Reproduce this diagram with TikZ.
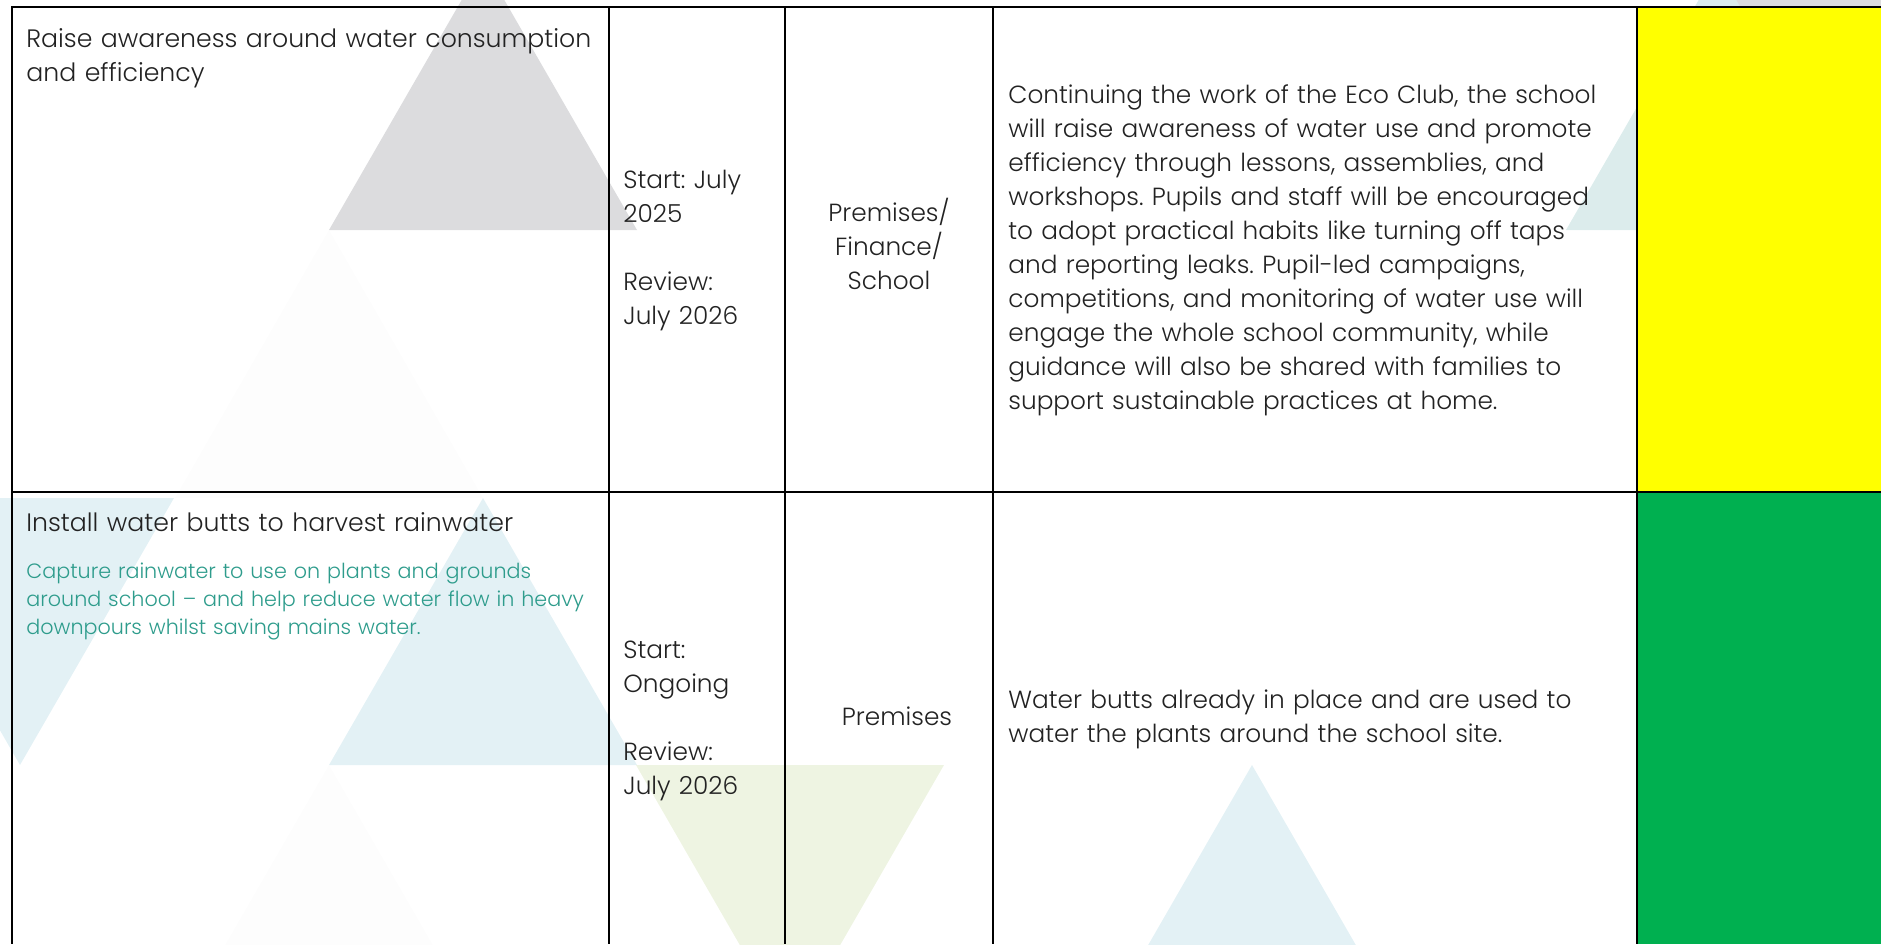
\documentclass[tikz,border=0pt]{standalone}
\usepackage{fontspec}
\setmainfont{Poppins Light}
\frenchspacing
\definecolor{ink}{HTML}{222222}
\definecolor{notecol}{HTML}{2E9C8C}
\definecolor{trigray}{HTML}{DCDCDE}
\definecolor{triteal}{HTML}{DCECEC}
\definecolor{triblue}{HTML}{E3F1F5}
\definecolor{triolive}{HTML}{EEF4E2}
\definecolor{trifaint}{HTML}{FDFDFD}
\definecolor{statyellow}{HTML}{FFFF00}
\definecolor{statgreen}{HTML}{00B050}
\begin{document}
\begin{tikzpicture}[x=0.5pt,y=-0.5pt]
\tikzstyle{body} = [
 anchor=base west,
 inner sep=0pt,
 align=left,
 text width=300pt,
 text=ink,
 font=\fontsize{12.4}{17}\selectfont
]
\tikzstyle{head} = [body, font=\fontsize{12.6}{17}\selectfont]
\tikzstyle{note} = [body, text=notecol, font=\fontsize{10.35}{14}\selectfont]
\tikzstyle{grid} = [line width=1.25pt]

\useasboundingbox (0,0) rectangle (1881,944);

% watermark triangles behind the table
\begin{scope}
\clip (0,0) rectangle (1881,944);
\fill[trigray] (329,230) -- (637,230) -- (483,-37) -- cycle;
\fill[triteal] (1566,230) -- (1874,230) -- (1720,-37) -- cycle;
\fill[trigray] (1715,-37) -- (2023,-37) -- (1869,230) -- cycle;
\fill[trifaint] (175,498) -- (483,498) -- (329,230) -- cycle;
\fill[triblue] (329,765) -- (637,765) -- (483,498) -- cycle;
\fill[triblue] (-134,498) -- (174,498) -- (20,765) -- cycle;
\fill[triolive] (636,765) -- (944,765) -- (790,1032) -- cycle;
\fill[triblue] (1098,1032) -- (1406,1032) -- (1252,765) -- cycle;
\fill[trifaint] (175,1032) -- (483,1032) -- (329,765) -- cycle;
\end{scope}

% status column
\fill[statyellow] (1637,7) rectangle (1881,492);
\fill[statgreen] (1637,492) rectangle (1881,944);

% table rules
\draw[grid] (1881,7) -- (12,7) -- (12,944);
\draw[grid] (12,492) -- (1881,492);
\draw[grid] (609,7) -- (609,944);
\draw[grid] (785,7) -- (785,944);
\draw[grid] (993,7) -- (993,944);
\draw[grid] (1637,7) -- (1637,944);

% first row
\node[head] at (26,47) (t1) {Raise awareness around water consumption\\and efficiency};
\node[body] at (623,188) (d1) {Start: July\\2025\\[17pt]Review:\\July 2026};
\node[body, align=center, text width=100pt, anchor=base] at (889,221) (o1) {Premises/\\Finance/\\School};
\node[body] at (1008,103) (p1) {Continuing the work of the Eco Club, the school\\will raise awareness of water use and promote\\efficiency through lessons, assemblies, and\\workshops. Pupils and staff will be encouraged\\to adopt practical habits like turning off taps\\and reporting leaks. Pupil-led campaigns,\\competitions, and monitoring of water use will\\engage the whole school community, while\\guidance will also be shared with families to\\support sustainable practices at home.};

% second row
\node[head] at (26,531) (t2) {Install water butts to harvest rainwater};
\node[note] at (26,578) (s2) {Capture rainwater to use on plants and grounds\\around school – and help reduce water flow in heavy\\downpours whilst saving mains water.};
\node[body] at (623,658) (d2) {Start:\\Ongoing\\[17pt]Review:\\July 2026};
\node[body, align=center, text width=100pt, anchor=base] at (897,725) (o2) {Premises};
\node[body] at (1008,708) (p2) {Water butts already in place and are used to\\water the plants around the school site.};
\end{tikzpicture}
\end{document}
